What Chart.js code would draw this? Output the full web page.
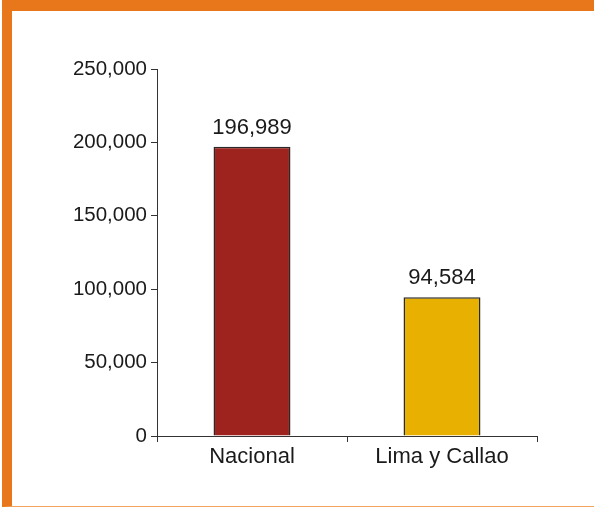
<!DOCTYPE html>
<html lang="es">
<head>
  <meta charset="UTF-8" />
  <title>Nacional vs Lima y Callao</title>
  <script src="https://cdn.jsdelivr.net/npm/chart.js@4.4.1/dist/chart.umd.min.js"></script>
  <style>
    html, body {
      margin: 0;
      padding: 0;
      background: white;
    }
    .frame {
      position: absolute;
      left: 2px;
      top: 0;
      width: 592px;
      height: 507px;
      box-sizing: border-box;
      border-top: 11px solid #e8761a;
      border-left: 10px solid #e8761a;
      border-bottom: 1px solid #f2a45f;
    }
    #chart {
      position: absolute;
      left: 0;
      top: 0;
    }
  </style>
</head>
<body>
  <div class="frame"></div>
  <canvas id="chart" width="594" height="507"></canvas>

  <script>
    // data
    const categories = ["Nacional", "Lima y Callao"];
    const values = [196989, 94584];
    const barColors = ["#9e231f", "#e8b000"];
    const yTicks = [0, 50000, 100000, 150000, 200000, 250000];

    const textColor = "#1a1a1a";
    const family = "'Liberation Sans', Arial, sans-serif";
    const yFont = { family: family, size: 20.5 };
    const xFont = { family: family, size: 22 };

    // writes the value above each bar
    const valueLabels = {
      id: "valueLabels",
      afterDatasetsDraw(chart) {
        const ctx = chart.ctx;
        const meta = chart.getDatasetMeta(0);
        ctx.save();
        ctx.fillStyle = textColor;
        ctx.font = xFont.size + "px " + family;
        ctx.textAlign = "center";
        ctx.textBaseline = "bottom";
        meta.data.forEach((bar, i) => {
          ctx.fillText(values[i].toLocaleString("en-US"), bar.x, bar.y - 8);
        });
        ctx.restore();
      }
    };

    new Chart(document.getElementById("chart").getContext("2d"), {
      type: "bar",
      data: {
        labels: categories,
        datasets: [{
          data: values,
          backgroundColor: barColors,
          borderColor: "#2a2a2a",
          borderWidth: 1.5,
          categoryPercentage: 1,
          barPercentage: 0.405
        }]
      },
      options: {
        responsive: false,
        animation: false,
        layout: { padding: { left: 0, right: 57, top: 69, bottom: 31 } },
        plugins: {
          legend: { display: false },
          tooltip: { enabled: false }
        },
        scales: {
          x: {
            afterFit: (s) => { s.height = 40; },
            grid: {
              offset: true,
              drawOnChartArea: false,
              drawTicks: true,
              tickLength: 6,
              color: "#333333"
            },
            border: { color: "#333333", width: 1 },
            ticks: { color: textColor, font: xFont, padding: 2 }
          },
          y: {
            min: 0,
            max: 250000,
            afterFit: (s) => { s.width = 157; },
            afterBuildTicks: (s) => { s.ticks = yTicks.map(v => ({ value: v })); },
            grid: {
              drawOnChartArea: false,
              drawTicks: true,
              tickLength: 6,
              color: "#333333"
            },
            border: { color: "#333333", width: 1 },
            ticks: {
              color: textColor,
              font: yFont,
              padding: 4,
              callback: (v) => v.toLocaleString("en-US")
            }
          }
        }
      },
      plugins: [valueLabels]
    });
  </script>
</body>
</html>
